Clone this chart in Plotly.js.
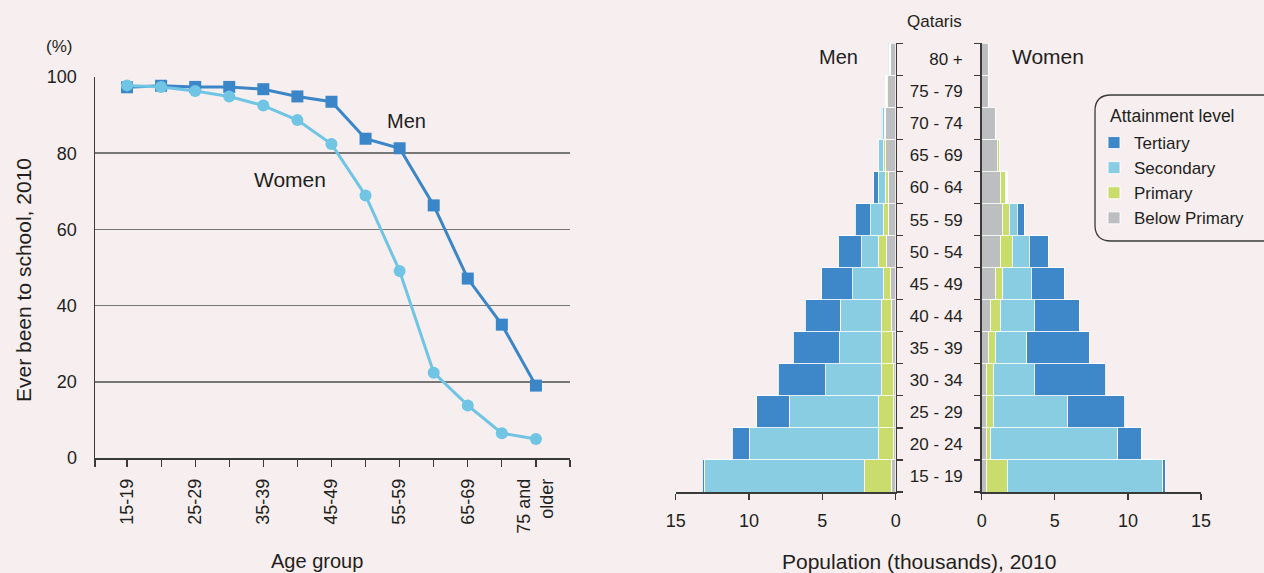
<!DOCTYPE html>
<html>
<head>
<meta charset="utf-8">
<script src="https://cdn.plot.ly/plotly-3.0.1.min.js"></script>
<style>
html,body{margin:0;padding:0;background:#f7eeef;}
#chart{width:1264px;height:573px;}
</style>
</head>
<body>
<div id="chart"></div>
<script>
// ---- Left chart: ever been to school (%) by age group, 2010 ----
const ageGroups = ['15-19','20-24','25-29','30-34','35-39','40-44','45-49','50-54','55-59','60-64','65-69','70-74','75 and<br>older'];
const menSchool   = [97.3, 97.7, 97.4, 97.4, 96.8, 94.9, 93.5, 83.8, 81.3, 66.3, 47.1, 35.0, 19.0];
const womenSchool = [97.8, 97.4, 96.3, 94.9, 92.5, 88.7, 82.4, 68.9, 49.1, 22.4, 13.8, 6.5, 5.0];
const schoolTicks = [0, 20, 40, 60, 80, 100];

// ---- Right chart: Qataris population pyramid (thousands), 2010 ----
const pyramidAges = ['15 - 19','20 - 24','25 - 29','30 - 34','35 - 39','40 - 44','45 - 49','50 - 54','55 - 59','60 - 64','65 - 69','70 - 74','75 - 79','80 +'];
const levels = ['Below Primary','Primary','Secondary','Tertiary'];
const menBelow     = [0.30, 0.15, 0.15, 0.15, 0.20, 0.30, 0.35, 0.65, 0.50, 0.50, 0.70, 0.70, 0.55, 0.34];
const menPrimary   = [1.84, 1.03, 1.03, 0.85, 0.80, 0.68, 0.50, 0.53, 0.34, 0.20, 0.10, 0.05, 0.11, 0.02];
const menSecondary = [10.91, 8.82, 6.07, 3.77, 2.80, 2.80, 2.09, 1.14, 0.86, 0.48, 0.34, 0.14, 0.02, 0.09];
const menTertiary  = [0.15, 1.14, 2.23, 3.23, 3.20, 2.38, 2.10, 1.58, 1.07, 0.32, 0.02, 0.11, 0.00, 0.05];
const womenBelow     = [0.30, 0.30, 0.30, 0.30, 0.46, 0.59, 0.94, 1.28, 1.42, 1.28, 1.07, 0.94, 0.46, 0.46];
const womenPrimary   = [1.46, 0.32, 0.50, 0.50, 0.48, 0.68, 0.50, 0.82, 0.48, 0.32, 0.16, 0.00, 0.00, 0.00];
const womenSecondary = [10.64, 8.70, 5.07, 2.79, 2.15, 2.31, 1.96, 1.14, 0.53, 0.11, 0.00, 0.00, 0.00, 0.00];
const womenTertiary  = [0.16, 1.60, 3.90, 4.89, 4.25, 3.08, 2.26, 1.30, 0.48, 0.05, 0.00, 0.00, 0.00, 0.00];
const popTicks = [0, 5, 10, 15];

// ---- styling ----
const F = '"Liberation Sans", Arial, sans-serif';
const TXT = '#231f20';
const AX = '#3a3a3a';
const levelColors = {'Below Primary':'#bdbec0','Primary':'#c9dc6c','Secondary':'#89cde3','Tertiary':'#3e88ca'};
const menLineColor = '#3a86c8';
const womenLineColor = '#6fc5e3';
const W = 1264, H = 573;
const px = v => v / W;
const py = v => 1 - v / H;

const xIdx = ageGroups.map((_, i) => i);
const traces = [];
traces.push({
  x: xIdx, y: menSchool, type: 'scatter', mode: 'lines+markers', name: 'Men',
  line: {color: menLineColor, width: 3}, marker: {symbol: 'square', size: 12, color: menLineColor},
  xaxis: 'x', yaxis: 'y', showlegend: false, cliponaxis: false
});
traces.push({
  x: xIdx, y: womenSchool, type: 'scatter', mode: 'lines+markers', name: 'Women',
  line: {color: womenLineColor, width: 3}, marker: {symbol: 'circle', size: 12, color: womenLineColor},
  xaxis: 'x', yaxis: 'y', showlegend: false, cliponaxis: false
});

const menData = [menBelow, menPrimary, menSecondary, menTertiary];
const womenData = [womenBelow, womenPrimary, womenSecondary, womenTertiary];
levels.forEach((lv, i) => {
  traces.push({
    type: 'bar', orientation: 'h', x: menData[i], y: pyramidAges, name: lv,
    xaxis: 'x2', yaxis: 'y2', legendgroup: lv, showlegend: false,
    marker: {color: levelColors[lv], line: {color: 'rgba(255,255,255,0.85)', width: 1}}
  });
});
levels.forEach((lv, i) => {
  traces.push({
    type: 'bar', orientation: 'h', x: womenData[i], y: pyramidAges, name: lv,
    xaxis: 'x3', yaxis: 'y3', legendgroup: lv, showlegend: true,
    marker: {color: levelColors[lv], line: {color: 'rgba(255,255,255,0.85)', width: 1}}
  });
});

const tickVals = [-0.94].concat(xIdx).concat([13]);
const tickText = [''].concat(ageGroups.map((g, i) => i % 2 === 0 ? g : '')).concat(['']);

const pyrY = [py(492), py(43.3)];
function catAxis(extra) {
  return Object.assign({
    type: 'category', categoryorder: 'array', categoryarray: pyramidAges,
    range: [-0.5, pyramidAges.length - 0.5], domain: pyrY,
    tickson: 'boundaries', ticks: 'outside', ticklen: 6, tickcolor: AX, tickwidth: 1.2,
    showline: true, linecolor: AX, linewidth: 1.5, showgrid: false, zeroline: false,
    tickfont: {family: F, size: 17, color: TXT}, fixedrange: true
  }, extra);
}
function popAxis(extra) {
  return Object.assign({
    tickvals: popTicks, ticks: 'outside', ticklen: 6, tickcolor: AX, tickwidth: 1.2,
    showline: true, linecolor: AX, linewidth: 1.5, showgrid: false, zeroline: false,
    tickfont: {family: F, size: 18, color: TXT}, ticklabelstandoff: 6, fixedrange: true
  }, extra);
}

// rounded legend frame (paper coords)
const bx0 = 1095, bx1 = 1275, by0 = 95, by1 = 241, r = 16;
const framePath = `M ${px(bx0+r)},${py(by0)} L ${px(bx1)},${py(by0)} L ${px(bx1)},${py(by1)} L ${px(bx0+r)},${py(by1)} ` +
  `Q ${px(bx0)},${py(by1)} ${px(bx0)},${py(by1-r)} L ${px(bx0)},${py(by0+r)} Q ${px(bx0)},${py(by0)} ${px(bx0+r)},${py(by0)} Z`;

function note(text, x, y, size, extra) {
  return Object.assign({text: text, xref: 'paper', yref: 'paper', x: px(x), y: py(y),
    xanchor: 'center', yanchor: 'middle', showarrow: false,
    font: {family: F, size: size, color: TXT}}, extra || {});
}

const layout = {
  width: W, height: H,
  margin: {l: 0, r: 0, t: 0, b: 0},
  paper_bgcolor: '#f7eeef', plot_bgcolor: '#f7eeef',
  font: {family: F, color: TXT},
  barmode: 'stack', bargap: 0,
  showlegend: true,
  legend: {
    x: px(1094), y: py(125), xanchor: 'left', yanchor: 'top',
    bgcolor: 'rgba(0,0,0,0)', borderwidth: 0,
    traceorder: 'reversed', font: {family: F, size: 17, color: TXT},
    itemwidth: 30, tracegroupgap: 0
  },
  xaxis: {
    domain: [px(95), px(570)], range: [-0.94, 13], anchor: 'y',
    tickmode: 'array', tickvals: tickVals, ticktext: tickText, tickangle: -90,
    ticks: 'outside', ticklen: 7, tickcolor: AX, tickwidth: 1.2,
    showline: true, linecolor: AX, linewidth: 1.5, showgrid: false, zeroline: false,
    tickfont: {family: F, size: 18, color: TXT}, ticklabelstandoff: 5, fixedrange: true
  },
  yaxis: {
    domain: [py(458), py(77)], range: [0, 100], anchor: 'x',
    tickmode: 'array', tickvals: schoolTicks, ticks: '',
    showgrid: true, gridcolor: '#767676', gridwidth: 1.5,
    showline: true, linecolor: AX, linewidth: 1.5, zeroline: false,
    tickfont: {family: F, size: 18, color: TXT}, ticklabelstandoff: 13, fixedrange: true
  },
  xaxis2: popAxis({domain: [px(675.7), px(895.7)], range: [15, 0], anchor: 'y2'}),
  yaxis2: catAxis({anchor: 'x2', side: 'right', showticklabels: false}),
  xaxis3: popAxis({domain: [px(981.7), px(1201)], range: [0, 15], anchor: 'y3'}),
  yaxis3: catAxis({anchor: 'x3', side: 'left', showticklabels: true, ticklabelstandoff: 14}),
  shapes: [
    {type: 'path', xref: 'paper', yref: 'paper', path: framePath,
     line: {color: '#3a3a3a', width: 1.3}, fillcolor: 'rgba(0,0,0,0)'}
  ],
  annotations: [
    note('(%)', 59, 46, 17),
    note('Ever been to school, 2010', 23, 280, 21, {textangle: -90}),
    note('Age group', 317, 561, 20),
    {text: 'Men', xref: 'x', yref: 'y', x: 8.2, y: 88.5, xanchor: 'center', yanchor: 'middle', showarrow: false, font: {family: F, size: 20, color: TXT}},
    {text: 'Women', xref: 'x', yref: 'y', x: 4.78, y: 73.2, xanchor: 'center', yanchor: 'middle', showarrow: false, font: {family: F, size: 21, color: TXT}},
    note('Qataris', 935, 22, 17),
    note('Men', 838, 57, 20),
    note('Women', 1048, 57, 21),
    note('Attainment level', 1108, 116, 17.5, {xanchor: 'left'}),
    note('Population (thousands), 2010', 919, 561, 21)
  ]
};

Plotly.newPlot('chart', traces, layout, {staticPlot: true, displayModeBar: false});
</script>
</body>
</html>
